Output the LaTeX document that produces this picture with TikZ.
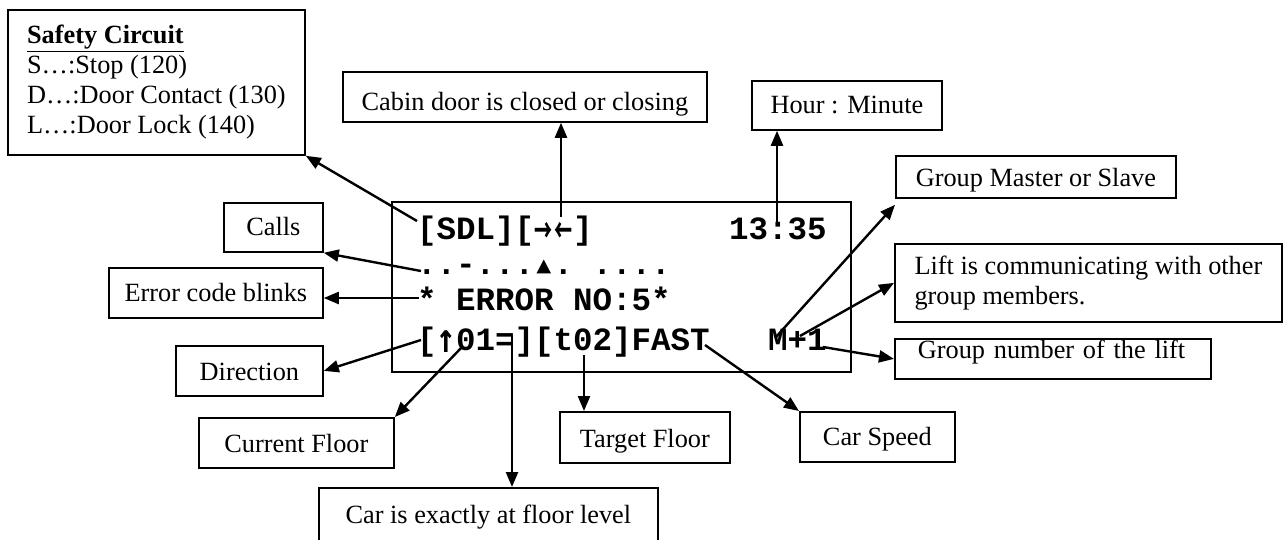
\documentclass[tikz,border=0pt]{standalone}
\usepackage{fontspec}
\usepackage{graphicx}
\setmainfont{Liberation Serif}
\newfontfamily\lcdfont{Liberation Mono}
\newfontfamily\symfont{DejaVu Sans Mono}
\newfontfamily\cjkfont{Noto Sans CJK JP}
\usetikzlibrary{arrows.meta}
\newcommand{\cellarrow}[1]{\makebox[19.5pt]{\raisebox{-3pt}{\scalebox{0.95}[1.7]{\fontsize{19}{19}\cjkfont\bfseries #1}}}}
\newcommand{\cellup}{\makebox[19.5pt]{\raisebox{-2pt}{\scalebox{1}[1.25]{\symfont\bfseries ↑}}}}
\newcommand{\smalltri}{\makebox[19.5pt]{\fontsize{25}{25}\selectfont ▲}}
\begin{document}
\begin{tikzpicture}[x=1pt,y=-1pt,
  box/.style={draw, line width=1.8pt, inner sep=0pt, anchor=north west,
    font=\fontsize{26.3}{30}\selectfont},
  arr/.style={line width=2.4pt, -{Triangle[length=15pt,width=12pt]}},
  lcd/.style={anchor=base west, inner sep=0pt,
    font=\lcdfont\bfseries\fontsize{32.5}{36}\selectfont}]
\useasboundingbox (0,0) rectangle (1283,540);

% display
\node[draw, line width=2.2pt, inner sep=0pt, anchor=north west,
  minimum width=459, minimum height=170] (lcdbox) at (391,201) {};
\node[lcd] (l1) at (417,240) {[SDL][\cellarrow{→}\cellarrow{←}]\ \ \ \ \ \ \ 13:35};
\node[lcd] (l2) at (417,275) {..-...\smalltri.\ ....};
\node[lcd] (l3) at (417,310) {*\ ERROR\ NO:5*};
\node[lcd] (l4) at (417,350) {[\cellup 01=][t02]FAST\ \ \ M+1};

% label boxes
\node[box, minimum width=297, minimum height=145, align=left] (safety) at (7,9)
  {\textbf{\underline{Safety Circuit}}\\S…:Stop (120)\\D…:Door Contact (130)\\L…:Door Lock (140)};
\node[box, minimum width=364, minimum height=50, text height=39, text depth=11] (cabin) at (342,71) {Cabin door is closed or closing};
\node[box, minimum width=190, minimum height=49, text height=33, text depth=16] (hour) at (751,80) {Hour : Minute};
\node[box, minimum width=280, minimum height=42, text height=31, text depth=11] (gms) at (895,155) {Group Master or Slave};
\node[box, minimum width=387, minimum height=78, align=left] (lift) at (894,243) {Lift is communicating with other\\group members.};
\node[box, minimum width=316, minimum height=40, text height=20, text depth=20, text width=270] (gnum) at (894,338) {Group number of the lift};
\node[box, minimum width=99, minimum height=49, text height=33, text depth=16] (calls) at (223,202) {Calls};
\node[box, minimum width=214, minimum height=50, text height=34, text depth=16] (err) at (108,267) {Error code blinks};
\node[box, minimum width=147, minimum height=50, text height=35, text depth=15] (dir) at (175,345) {Direction};
\node[box, minimum width=195, minimum height=50, text height=35, text depth=15] (cur) at (198,417) {Current Floor};
\node[box, minimum width=339, minimum height=61, text height=36, text depth=25] (level) at (318,487) {Car is exactly at floor level};
\node[box, minimum width=170, minimum height=51, text height=36, text depth=15] (target) at (559,411) {Target Floor};
\node[box, minimum width=155, minimum height=50, text height=34, text depth=16] (speed) at (799,411) {Car Speed};

% connectors
\coordinate (pSDL) at (417,221);
\coordinate (pdoor) at (561,217);
\coordinate (pclock) at (777,226);
\coordinate (pcalls) at (421,271);
\coordinate (perr) at (419,298);
\coordinate (pdir) at (421,340);
\coordinate (pcur) at (463,346);
\coordinate (plevel) at (512,336);
\coordinate (ptarget) at (584,355);
\coordinate (pfast) at (705,345);
\coordinate (pgm) at (776,337);
\coordinate (pcomm) at (800,336);
\coordinate (pgrp) at (823,347);

\draw[arr] (pSDL) -- (safety.south east);
\draw[arr] (pdoor) -- (pdoor |- cabin.south);
\draw[arr] (pclock) -- (pclock |- hour.south);
\draw[arr] (pcalls) -- (calls.south east);
\draw[arr] (perr) -- (perr -| err.east);
\draw[arr] (pdir) -- (dir.east);
\draw[arr] (pcur) -- (cur.north east);
\draw[arr] (plevel) -- (plevel |- level.north);
\draw[arr] (ptarget) -- (ptarget |- target.north);
\draw[arr] (pfast) -- (speed.north west);
\draw[arr] (pgm) -- ([yshift=-6pt]gms.south west);
\draw[arr] (pcomm) -- (lift.west);
\draw[arr] (pgrp) -- (gnum.west);
\end{tikzpicture}
\end{document}
